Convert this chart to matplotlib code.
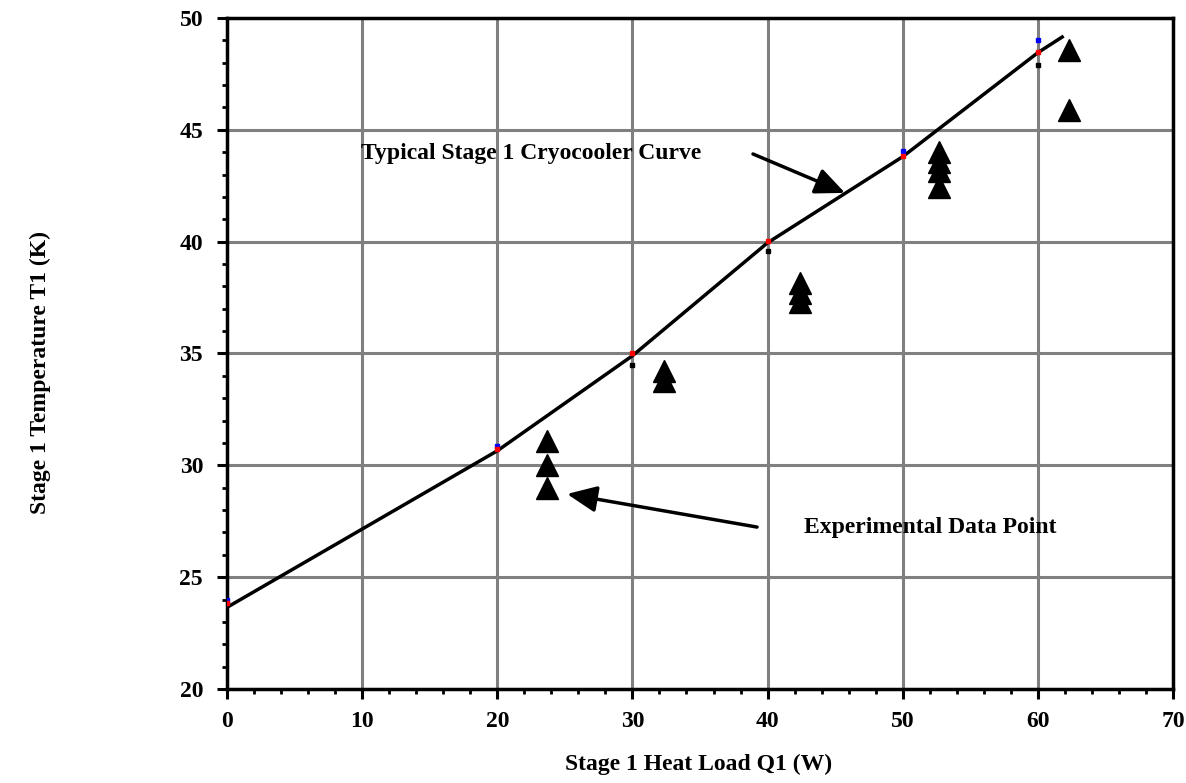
import matplotlib
matplotlib.use("Agg")
import matplotlib.pyplot as plt
from matplotlib.ticker import MultipleLocator

# Typical cryocooler curve
curve_q = [0, 20, 30, 40, 50, 60, 61.8]
curve_t = [23.65, 30.65, 34.9, 39.95, 43.8, 48.45, 49.15]

# small colored reference markers on gridlines
blue_q = [0, 20, 50, 60]
blue_t = [24.0, 30.85, 44.05, 49.0]
red_q = [0, 20, 30, 40, 50, 60]
red_t = [23.85, 30.72, 35.0, 40.02, 43.85, 48.48]
black_q = [30, 40, 60]
black_t = [34.48, 39.58, 47.9]

# Experimental data
exp_q = [23.7, 23.7, 23.7, 32.3, 32.3, 42.4, 42.4, 42.4, 52.7, 52.7, 52.7, 52.7, 62.3, 62.3]
exp_t = [31.1, 30.0, 29.0, 34.2, 33.75, 38.15, 37.7, 37.3, 44.0, 43.55, 43.15, 42.45, 48.55, 45.9]

xticks = [0, 10, 20, 30, 40, 50, 60, 70]
yticks = [20, 25, 30, 35, 40, 45, 50]

curve_label = 'Typical Stage 1 Cryocooler Curve'
exp_label = 'Experimental Data Point'

plt.rcParams['font.family'] = ['Liberation Serif', 'DejaVu Serif']
plt.rcParams['font.weight'] = 'bold'

fig = plt.figure(figsize=(11.86, 7.83), dpi=100)
ax = fig.add_axes([227/1186, 1-689/783, (1173-227)/1186, (689-18)/783])

ax.set_xlim(0, 70)
ax.set_ylim(20, 50)
ax.set_xticks(xticks)
ax.set_yticks(yticks)
ax.xaxis.set_minor_locator(MultipleLocator(2))
ax.yaxis.set_minor_locator(MultipleLocator(1))
ax.grid(True, which='major', color='#808080', lw=2.2)
ax.set_axisbelow(True)
for s in ax.spines.values():
    s.set_linewidth(2.5)
ax.tick_params(which='major', direction='out', length=7.2, width=2.2, labelsize=17)
ax.tick_params(axis='y', which='major', pad=10)
ax.tick_params(axis='x', which='major', pad=8.5)
ax.tick_params(which='minor', direction='out', length=3.6, width=2.0)
for lab in ax.get_xticklabels() + ax.get_yticklabels():
    lab.set_fontweight('bold')

ax.plot(curve_q, curve_t, color='black', lw=2.5, zorder=3)
ax.plot(blue_q, blue_t, 's', color='#0000ff', ms=2.5, zorder=4)
ax.plot(red_q, red_t, 's', color='#ff0000', ms=2.5, zorder=4)
ax.plot(black_q, black_t, 's', color='black', ms=2.5, zorder=4)
ax.plot(exp_q, exp_t, '^', color='black', ms=16, zorder=5, clip_on=False)

arrow = dict(arrowstyle='-|>,head_length=0.9,head_width=0.4', color='black',
             lw=2.5, shrinkA=0, shrinkB=0, mutation_scale=20)
ax.text(22.5, 43.92, curve_label, ha='center', va='center', fontsize=17, fontweight='bold')
ax.annotate('', xy=(45.73, 42.18), xytext=(38.92, 43.92), arrowprops=arrow)
ax.text(52.02, 27.24, exp_label, ha='center', va='center', fontsize=17, fontweight='bold')
ax.annotate('', xy=(25.16, 28.72), xytext=(39.22, 27.24), arrowprops=arrow)

fig.text(699/1186, 1-764/783, 'Stage 1 Heat Load Q1 (W)', ha='center', va='center',
         fontsize=17, fontweight='bold')
fig.text(40/1186, 1-373/783, 'Stage 1 Temperature T1 (K)', ha='center', va='center',
         rotation=90, fontsize=17, fontweight='bold')

fig.savefig('out.png', dpi=100)
